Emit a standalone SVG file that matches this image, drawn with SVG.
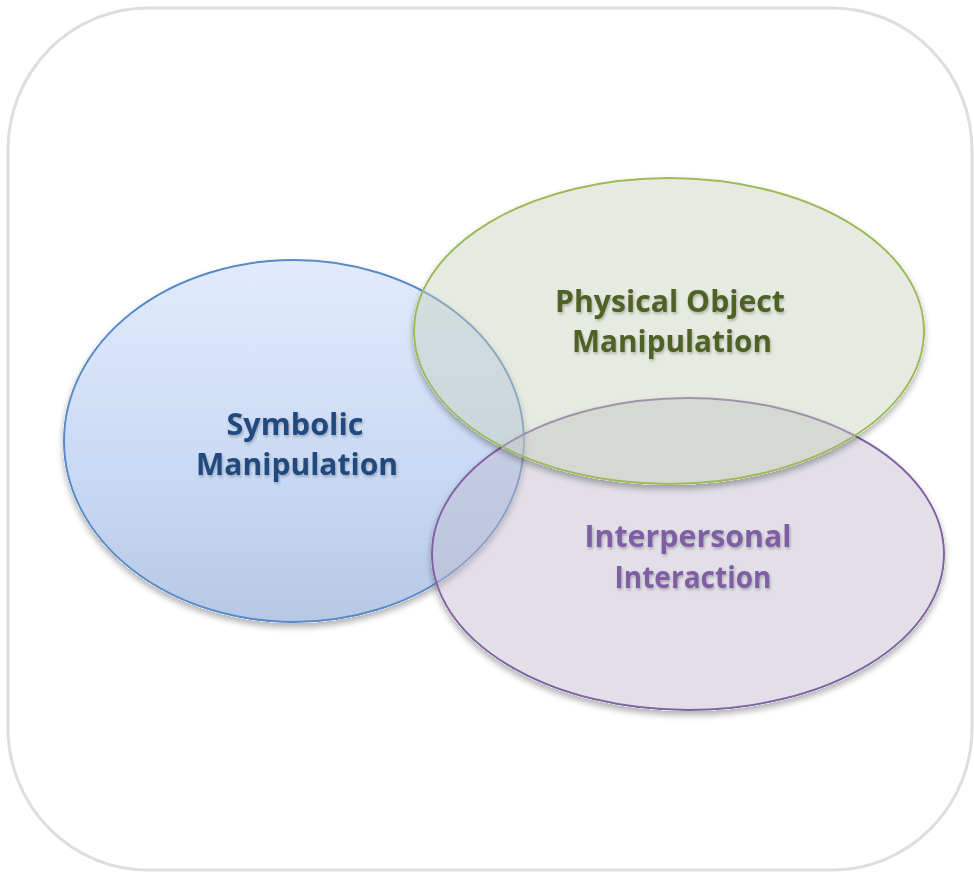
<svg xmlns="http://www.w3.org/2000/svg" width="974" height="872" viewBox="0 0 974 872">
  <style>
    .lbl { font-family: "Open Sans", "Noto Sans", "Liberation Sans", sans-serif; font-weight: bold; font-size: 30.5px; text-anchor: middle; }
  </style>
  <defs>
    <linearGradient id="gBlue" x1="0" y1="0" x2="0" y2="1">
      <stop offset="0" stop-color="#e2ebfc"/>
      <stop offset="0.6" stop-color="#c8d9f4"/>
      <stop offset="1" stop-color="#b6c8e4"/>
    </linearGradient>
    <!-- drop shadow kept outside the shape so translucent fills stay clean -->
    <filter id="shadow" x="-10%" y="-10%" width="120%" height="130%">
      <feComponentTransfer in="SourceAlpha" result="solid"><feFuncA type="linear" slope="20"/></feComponentTransfer>
      <feGaussianBlur in="solid" stdDeviation="3"/>
      <feOffset dx="0" dy="4"/>
      <feComponentTransfer><feFuncA type="linear" slope="0.3"/></feComponentTransfer>
      <feComposite in2="solid" operator="out" result="sh"/>
      <feMerge><feMergeNode in="sh"/><feMergeNode in="SourceGraphic"/></feMerge>
    </filter>
    <filter id="tshadow" x="-10%" y="-20%" width="120%" height="150%">
      <feGaussianBlur in="SourceAlpha" stdDeviation="1.5"/>
      <feOffset dx="1" dy="2"/>
      <feComponentTransfer><feFuncA type="linear" slope="0.25"/></feComponentTransfer>
      <feMerge><feMergeNode/><feMergeNode in="SourceGraphic"/></feMerge>
    </filter>
  </defs>

  <rect x="0" y="0" width="974" height="872" fill="#ffffff"/>
  <!-- frame -->
  <rect x="8" y="8" width="964" height="862" rx="140" ry="142" fill="#ffffff" stroke="#dedede" stroke-width="3"/>

  <g id="symbolic" filter="url(#shadow)">
    <ellipse cx="294" cy="441" rx="230" ry="181" fill="url(#gBlue)" stroke="#5a8ac6" stroke-width="2"/>
  </g>
  <g id="interpersonal" filter="url(#shadow)">
    <ellipse cx="688" cy="554" rx="256" ry="156" fill="#bfb8cc" fill-opacity="0.45" stroke="#8064a2" stroke-width="2"/>
  </g>
  <g id="physical" filter="url(#shadow)">
    <ellipse cx="669" cy="331" rx="255" ry="153" fill="#c6cfb9" fill-opacity="0.44" stroke="#9bbb59" stroke-width="2"/>
  </g>

  <g id="labels" filter="url(#tshadow)">
    <text class="lbl" fill="#224a7d" x="295" y="435" textLength="137" lengthAdjust="spacingAndGlyphs">Symbolic</text>
    <text class="lbl" fill="#224a7d" x="297" y="475" textLength="202" lengthAdjust="spacingAndGlyphs">Manipulation</text>
    <text class="lbl" fill="#4f6228" x="670" y="312" textLength="230" lengthAdjust="spacingAndGlyphs">Physical Object</text>
    <text class="lbl" fill="#4f6228" x="672" y="352" textLength="200" lengthAdjust="spacingAndGlyphs">Manipulation</text>
    <text class="lbl" fill="#7f5fa4" x="688" y="547" textLength="207" lengthAdjust="spacingAndGlyphs">Interpersonal</text>
    <text class="lbl" fill="#7f5fa4" x="693" y="588" textLength="157" lengthAdjust="spacingAndGlyphs">Interaction</text>
  </g>
</svg>
